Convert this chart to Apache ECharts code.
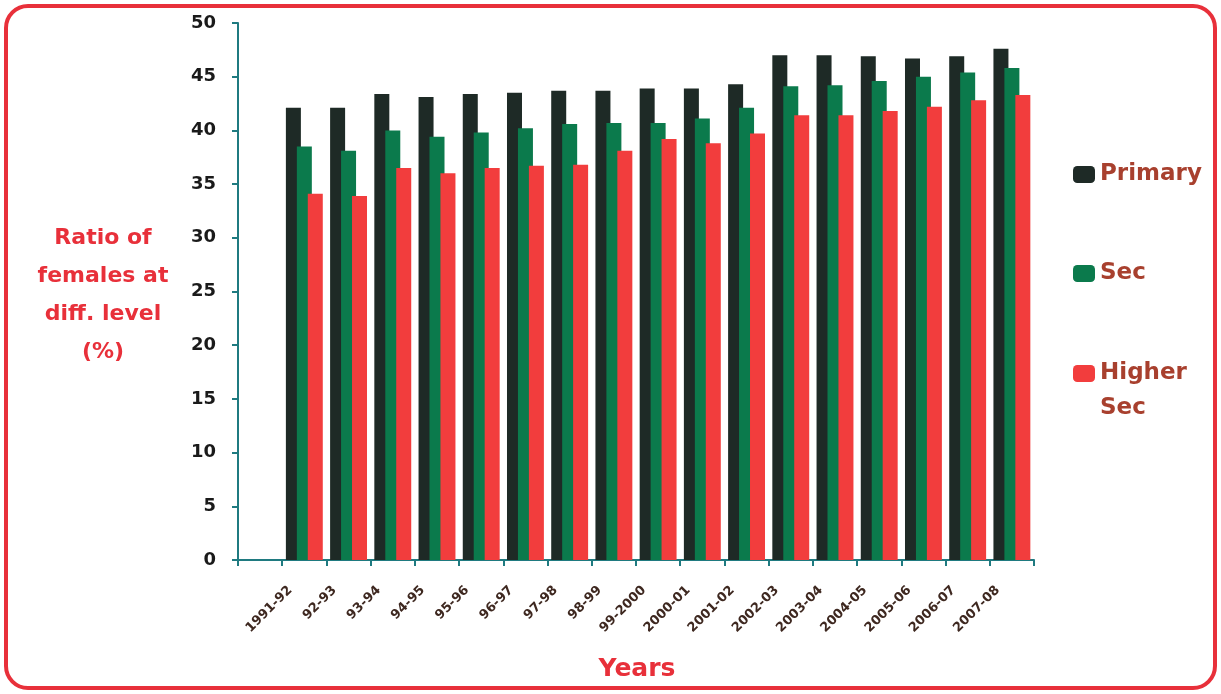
<!DOCTYPE html>
<html><head><meta charset="utf-8">
<script src="https://cdn.jsdelivr.net/npm/echarts@6/dist/echarts.min.js"></script>
<style>html,body{margin:0;padding:0;background:#fff}#c{width:1221px;height:694px}</style>
</head><body><div id="c"></div>
<script>
var years = ['1991-92','92-93','93-94','94-95','95-96','96-97','97-98','98-99','99-2000','2000-01','2001-02','2002-03','2003-04','2004-05','2005-06','2006-07','2007-08'];
var primary = [42.1,42.1,43.4,43.1,43.4,43.5,43.7,43.7,43.9,43.9,44.3,47.0,47.0,46.9,46.7,46.9,47.6];
var sec = [38.5,38.1,40.0,39.4,39.8,40.2,40.6,40.7,40.7,41.1,42.1,44.1,44.2,44.6,45.0,45.4,45.8];
var higherSec = [34.1,33.9,36.5,36.0,36.5,36.7,36.8,38.1,39.2,38.8,39.7,41.4,41.4,41.8,42.2,42.8,43.3];
var yTicks = [0,5,10,15,20,25,30,35,40,45,50];

var cats = [''].concat(years);
function pad(a){ return [null].concat(a); }
var chart = echarts.init(document.getElementById('c'));
var legendText = {color:'#a8402e', fontSize:23, fontWeight:'bold', fontFamily:'DejaVu Sans'};
chart.setOption({
  backgroundColor:'#ffffff',
  animation:false,
  graphic:[{type:'rect', shape:{x:6,y:6,width:1209,height:682,r:22}, style:{fill:'none', stroke:'#e8303a', lineWidth:4}}],
  title:[
    {text:'Ratio of\nfemales at\ndiff. level\n(%)', left:98, top:214, textAlign:'center',
     textStyle:{color:'#e8303a', fontSize:22, fontWeight:'bold', lineHeight:38, fontFamily:'DejaVu Sans', align:'center'}},
    {text:'Years', left:632, top:652, textAlign:'center',
     textStyle:{color:'#e8303a', fontSize:25, fontWeight:'bold', fontFamily:'DejaVu Sans'}}
  ],
  legend:[
    {data:['Primary'], left:1068, top:158, itemWidth:22, itemHeight:17, textStyle:legendText},
    {data:['Sec'], left:1068, top:257, itemWidth:22, itemHeight:17, textStyle:legendText},
    {data:['Higher Sec'], left:1068, top:316, itemWidth:22, itemHeight:17,
     formatter:function(n){return ' \n' + n.replace(' ','\n');},
     textStyle:Object.assign({}, legendText, {lineHeight:35})}
  ],
  grid:{left:238, right:187, top:23, bottom:134},
  xAxis:{type:'category', data:cats, boundaryGap:true,
    axisLine:{lineStyle:{color:'#1f7a80', width:2}},
    axisTick:{show:true, length:6, lineStyle:{color:'#1f7a80', width:2}},
    axisLabel:{interval:0, rotate:45, color:'#3e2820', fontSize:13, fontWeight:'bold', fontFamily:'DejaVu Sans', margin:14, padding:[0,20,0,0]}
  },
  yAxis:{type:'value', min:yTicks[0], max:yTicks[yTicks.length-1], interval:5,
    axisLine:{show:true, lineStyle:{color:'#1f7a80', width:2}},
    axisTick:{show:true, length:6, lineStyle:{color:'#1f7a80', width:2}},
    splitLine:{show:false},
    axisLabel:{color:'#1a1a1a', fontSize:18, fontWeight:'bold', fontFamily:'DejaVu Sans', margin:22}
  },
  series:[
    {name:'Primary', type:'bar', data:pad(primary), barWidth:15, barGap:'-27%', itemStyle:{color:'#1e2a26'}},
    {name:'Sec', type:'bar', data:pad(sec), barWidth:15, barGap:'-27%', itemStyle:{color:'#0b7a4c'}},
    {name:'Higher Sec', type:'bar', data:pad(higherSec), barWidth:15, barGap:'-27%', itemStyle:{color:'#f23d3d'}}
  ]
});
</script></body></html>
